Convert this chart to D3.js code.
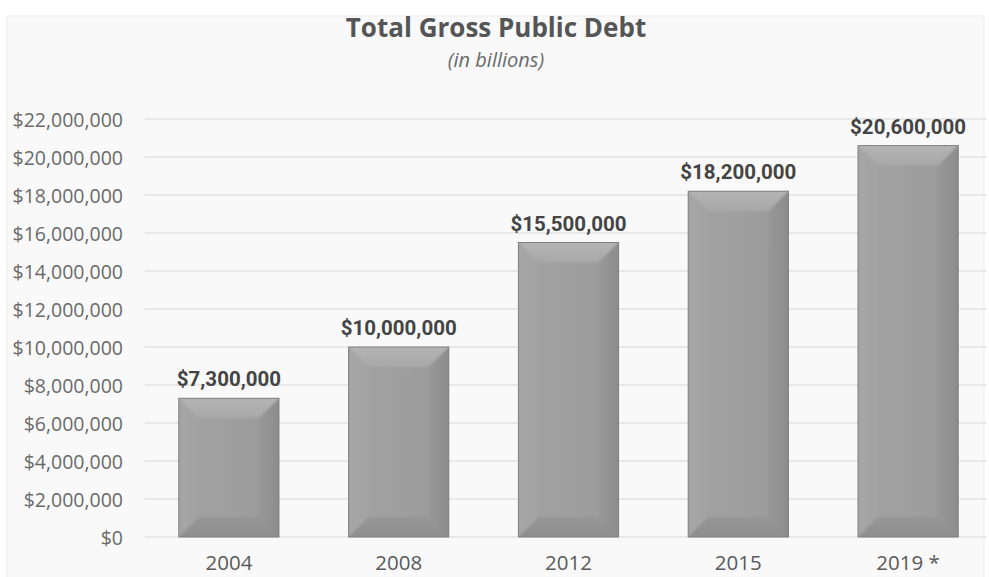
<!DOCTYPE html>
<html>
<head>
<meta charset="utf-8">
<script src="https://cdn.jsdelivr.net/npm/d3@7"></script>
<style>
  html, body { margin: 0; padding: 0; background: #ffffff; }
  svg { display: block; }
</style>
</head>
<body>
<svg id="chart" width="989" height="577"></svg>
<script>
// Total gross public debt by year
const years = ["2004", "2008", "2012", "2015", "2019 *"];
const debt = [7300000, 10000000, 15500000, 18200000, 20600000];
const yTicks = [0, 2000000, 4000000, 6000000, 8000000, 10000000, 12000000,
                14000000, 16000000, 18000000, 20000000, 22000000];
const titleText = "Total Gross Public Debt";
const subtitleText = "(in billions)";

const svg = d3.select("#chart");

// chart panel
svg.append("rect")
  .attr("x", 7).attr("y", 16).attr("width", 977).attr("height", 562)
  .attr("fill", "#f9f9f9").attr("stroke", "#eeeeee");

const x = d3.scaleBand()
  .domain(years)
  .range([144, 993])
  .paddingInner(0.41)
  .paddingOuter(0.205);

const y = d3.scaleLinear()
  .domain([0, 22000000])
  .range([537, 119]);

const fmt = v => "$" + d3.format(",")(v);

// gridlines
svg.append("g")
  .selectAll("line")
  .data(yTicks)
  .join("line")
  .attr("x1", 145).attr("x2", 986)
  .attr("y1", d => y(d)).attr("y2", d => y(d))
  .attr("stroke", "#d8d8d8").attr("stroke-width", 1.2);

// y axis labels
const yAxis = d3.axisLeft(y).tickValues(yTicks).tickFormat(fmt).tickSize(0).tickPadding(0);
const yg = svg.append("g").attr("transform", "translate(123,1)").call(yAxis);
yg.select(".domain").remove();
yg.selectAll("text")
  .attr("font-family", "'Open Sans', sans-serif")
  .attr("font-size", 19.5)
  .attr("fill", "#6a6a6a");

// x axis labels
const xAxis = d3.axisBottom(x).tickSize(0).tickPadding(0);
const xg = svg.append("g").attr("transform", "translate(0,555)").call(xAxis);
xg.select(".domain").remove();
xg.selectAll("text")
  .attr("font-family", "'Open Sans', sans-serif")
  .attr("font-size", 20.5)
  .attr("fill", "#5a5a5a");

// bevel shading
const defs = svg.append("defs");
const face = defs.append("linearGradient").attr("id", "face").attr("x1", 0).attr("x2", 1).attr("y1", 0).attr("y2", 0);
face.append("stop").attr("offset", 0).attr("stop-color", "#a2a2a2");
face.append("stop").attr("offset", 0.6).attr("stop-color", "#9e9e9e");
face.append("stop").attr("offset", 1).attr("stop-color", "#999999");

const topG = defs.append("linearGradient").attr("id", "topBevel").attr("x1", 0).attr("x2", 0).attr("y1", 0).attr("y2", 1);
topG.append("stop").attr("offset", 0).attr("stop-color", "#b6b6b6");
topG.append("stop").attr("offset", 1).attr("stop-color", "#a8a8a8");

const botG = defs.append("linearGradient").attr("id", "botBevel").attr("x1", 0).attr("x2", 0).attr("y1", 0).attr("y2", 1);
botG.append("stop").attr("offset", 0).attr("stop-color", "#979797");
botG.append("stop").attr("offset", 1).attr("stop-color", "#8c8c8c");

const rightG = defs.append("linearGradient").attr("id", "rightBevel").attr("x1", 0).attr("x2", 1).attr("y1", 0).attr("y2", 0);
rightG.append("stop").attr("offset", 0).attr("stop-color", "#989898");
rightG.append("stop").attr("offset", 1).attr("stop-color", "#8a8a8a");

const leftG = defs.append("linearGradient").attr("id", "leftBevel").attr("x1", 0).attr("x2", 1).attr("y1", 0).attr("y2", 0);
leftG.append("stop").attr("offset", 0).attr("stop-color", "#a6a6a6");
leftG.append("stop").attr("offset", 1).attr("stop-color", "#a3a3a3");

defs.append("filter").attr("id", "soft")
  .attr("x", "-10%").attr("y", "-10%").attr("width", "120%").attr("height", "120%")
  .append("feGaussianBlur").attr("stdDeviation", 1.2);

// bars
const bev = 20;
const barData = debt.map((v, i) => ({ year: years[i], value: v, i }));
const bars = svg.append("g").selectAll("g")
  .data(barData)
  .join("g");

bars.each(function(d) {
  const g = d3.select(this);
  const x0 = x(d.year), x1 = x0 + x.bandwidth();
  const y0 = y(d.value), y1 = y(0);
  const b = Math.min(bev, (y1 - y0) / 2);
  const pts = a => a.map(p => p.join(",")).join(" ");
  defs.append("clipPath").attr("id", "clip" + d.i)
    .append("rect").attr("x", x0).attr("y", y0).attr("width", x1 - x0).attr("height", y1 - y0);
  g.append("rect").attr("x", x0).attr("y", y0).attr("width", x1 - x0).attr("height", y1 - y0)
    .attr("fill", "url(#face)");
  const bevG = g.append("g").attr("clip-path", `url(#clip${d.i})`)
    .append("g").attr("filter", "url(#soft)");
  bevG.append("polygon").attr("points", pts([[x0 - 3, y0 - 3], [x1 + 3, y0 - 3], [x1 - b, y0 + b], [x0 + b, y0 + b]]))
    .attr("fill", "url(#topBevel)");
  bevG.append("polygon").attr("points", pts([[x0 - 3, y0 - 3], [x0 + b, y0 + b], [x0 + b, y1 - b], [x0 - 3, y1 + 3]]))
    .attr("fill", "url(#leftBevel)");
  bevG.append("polygon").attr("points", pts([[x1 + 3, y0 - 3], [x1 + 3, y1 + 3], [x1 - b, y1 - b], [x1 - b, y0 + b]]))
    .attr("fill", "url(#rightBevel)");
  bevG.append("polygon").attr("points", pts([[x0 - 3, y1 + 3], [x0 + b, y1 - b], [x1 - b, y1 - b], [x1 + 3, y1 + 3]]))
    .attr("fill", "url(#botBevel)");
  g.append("rect").attr("x", x0).attr("y", y0).attr("width", x1 - x0).attr("height", y1 - y0)
    .attr("fill", "none").attr("stroke", "#808080").attr("stroke-width", 1);
});

// value labels
svg.append("g").selectAll("text")
  .data(barData)
  .join("text")
  .attr("x", d => x(d.year) + x.bandwidth() / 2)
  .attr("y", d => y(d.value) - 12)
  .attr("text-anchor", "middle")
  .attr("font-family", "'Liberation Sans Narrow', 'Roboto', sans-serif")
  .attr("font-weight", "bold")
  .attr("font-size", 20.5)
  .attr("fill", "#444444")
  .text(d => fmt(d.value));

// titles
svg.append("text")
  .attr("x", 496).attr("y", 37)
  .attr("text-anchor", "middle")
  .attr("font-family", "'Open Sans', sans-serif")
  .attr("font-weight", "bold")
  .attr("font-size", 26)
  .attr("fill", "#555555")
  .text(titleText);

svg.append("text")
  .attr("x", 496).attr("y", 67)
  .attr("text-anchor", "middle")
  .attr("font-family", "'Open Sans', sans-serif")
  .attr("font-style", "italic")
  .attr("font-size", 20)
  .attr("fill", "#6a6a6a")
  .text(subtitleText);
</script>
</body>
</html>
